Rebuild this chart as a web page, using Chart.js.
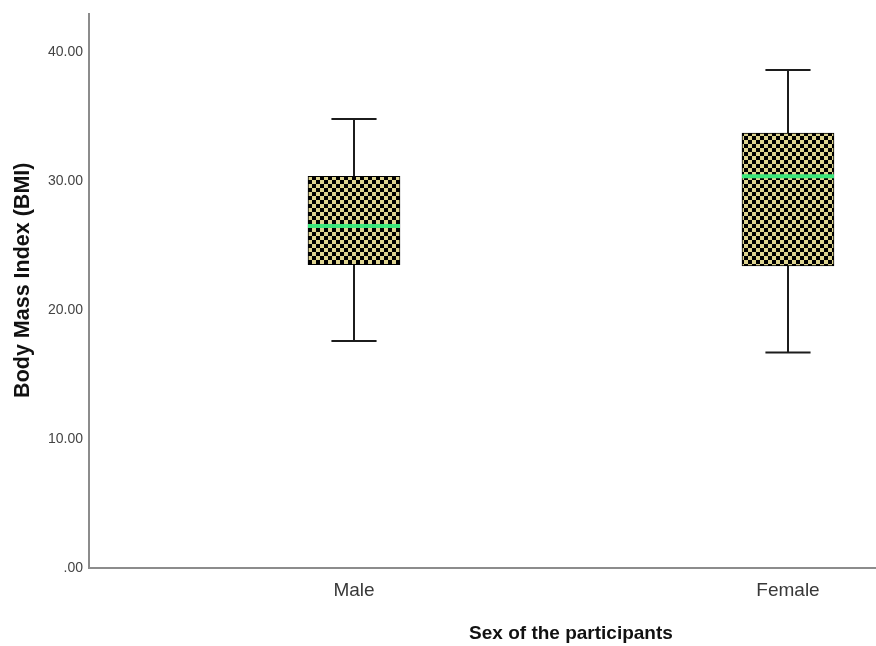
<!DOCTYPE html>
<html>
<head>
<meta charset="utf-8">
<script src="https://cdn.jsdelivr.net/npm/chart.js@4.4.1/dist/chart.umd.min.js"></script>
<style>
  html, body { margin: 0; padding: 0; background: #fff; }
  #wrap { width: 876px; height: 646px; }
</style>
</head>
<body>
<div id="wrap"><canvas id="myChart" width="876" height="646"></canvas></div>
<script>
'use strict';

// data
let categories = ['Male', 'Female'];
let minVals = [17.6, 16.7];
let q1Vals = [23.5, 23.4];
let medianVals = [26.5, 30.35];
let q3Vals = [30.35, 33.7];
let maxVals = [34.8, 38.6];
let yTicks = [0, 10, 20, 30, 40];

// box and cap half widths, in x units (category i sits at x = i + 1)
const boxHalf = 0.106;
const capHalf = 0.052;

const ctx = document.getElementById('myChart');

// checkerboard fill for the boxes
function makePattern(){
  let tile = document.createElement('canvas');
  tile.width = 8;
  tile.height = 8;
  let t = tile.getContext('2d');
  t.fillStyle = '#000000';
  t.fillRect(0, 0, 8, 8);
  t.fillStyle = '#ddd38f';
  t.fillRect(4, 0, 4, 4);
  t.fillRect(0, 4, 4, 4);
  return ctx.getContext('2d').createPattern(tile, 'repeat');
}

// segments split by gap points
function medianPoints(){
  let pts = [];
  for (let i in categories){
    let x = Number(i) + 1;
    pts.push({x: x - boxHalf, y: medianVals[i]}, {x: x + boxHalf, y: medianVals[i]}, {x: x, y: null});
  }
  return pts;
}

function whiskerPoints(){
  let pts = [];
  for (let i in categories){
    let x = Number(i) + 1;
    pts.push({x: x, y: q3Vals[i]}, {x: x, y: maxVals[i]}, {x: x, y: null});
    pts.push({x: x, y: q1Vals[i]}, {x: x, y: minVals[i]}, {x: x, y: null});
  }
  return pts;
}

function capPoints(){
  let pts = [];
  for (let i in categories){
    let x = Number(i) + 1;
    pts.push({x: x - capHalf, y: maxVals[i]}, {x: x + capHalf, y: maxVals[i]}, {x: x, y: null});
    pts.push({x: x - capHalf, y: minVals[i]}, {x: x + capHalf, y: minVals[i]}, {x: x, y: null});
  }
  return pts;
}

function boxPoints(){
  let pts = [];
  for (let i in categories){
    pts.push({x: Number(i) + 1, y: [q1Vals[i], q3Vals[i]]});
  }
  return pts;
}

// axis titles, placed like the original (x title centred between the groups)
const axisTitlePlugin = {
  id: 'axisTitles',
  afterDraw(chart){
    let c = chart.ctx;
    let xs = chart.scales.x;
    let ys = chart.scales.y;
    c.save();
    c.fillStyle = '#111111';
    c.textAlign = 'center';
    c.textBaseline = 'alphabetic';
    c.font = 'bold 19px "Liberation Sans", Arial, sans-serif';
    c.fillText('Sex of the participants', xs.getPixelForValue((1 + categories.length) / 2), 639);

    c.translate(29, ys.getPixelForValue(22.3));
    c.rotate(-Math.PI / 2);
    c.font = 'bold 21.5px "Liberation Sans", Arial, sans-serif';
    c.fillText('Body Mass Index (BMI)', 0, 0);
    c.restore();
  }
};

let lineStyle = {
  type: 'line',
  showLine: true,
  spanGaps: false,
  pointRadius: 0,
  pointHoverRadius: 0,
  fill: false,
  borderCapStyle: 'butt'
};

let chartObj = {
  type: 'bar',
  data: {
    datasets: [
      Object.assign({}, lineStyle, {
        label: 'Median',
        data: medianPoints(),
        borderColor: '#3be67a',
        borderWidth: 4
      }),
      {
        type: 'bar',
        label: 'Box',
        data: boxPoints(),
        backgroundColor: makePattern(),
        borderColor: '#000000',
        borderWidth: 1,
        borderSkipped: false,
        barThickness: 92
      },
      Object.assign({}, lineStyle, {
        label: 'Whiskers',
        data: whiskerPoints(),
        borderColor: '#1c1c1c',
        borderWidth: 2
      }),
      Object.assign({}, lineStyle, {
        label: 'Caps',
        data: capPoints(),
        borderColor: '#1c1c1c',
        borderWidth: 2
      })
    ]
  },
  options: {
    responsive: false,
    animation: false,
    layout: {
      padding: {top: 13, right: 0, left: 0, bottom: 0}
    },
    plugins: {
      legend: {display: false},
      tooltip: {enabled: false}
    },
    scales: {
      x: {
        type: 'linear',
        min: 0.3894,
        max: 2.2028,
        offset: false,
        grid: {display: false, drawTicks: false},
        border: {color: '#8c8c8c', width: 2},
        afterBuildTicks: function(scale){
          scale.ticks = categories.map((c, i) => ({value: i + 1}));
        },
        afterFit: function(scale){
          scale.height = 78;
        },
        ticks: {
          padding: 11,
          color: '#383838',
          font: {family: '"Liberation Sans", Arial, sans-serif', size: 19},
          callback: function(value){
            return categories[Math.round(value) - 1];
          }
        }
      },
      y: {
        type: 'linear',
        min: 0,
        max: 42.9,
        grid: {display: false, drawTicks: false},
        border: {color: '#8c8c8c', width: 2},
        afterBuildTicks: function(scale){
          scale.ticks = yTicks.map(v => ({value: v}));
        },
        afterFit: function(scale){
          scale.width = 89;
        },
        ticks: {
          padding: 6,
          color: '#444444',
          font: {family: '"Liberation Sans", Arial, sans-serif', size: 14},
          callback: function(value){
            return value === 0 ? '.00' : value.toFixed(2);
          }
        }
      }
    }
  },
  plugins: [axisTitlePlugin]
};

new Chart(ctx, chartObj);
</script>
</body>
</html>
